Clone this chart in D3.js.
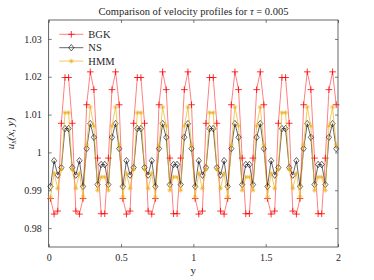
<!DOCTYPE html>
<html lang="en">
<head>
<meta charset="UTF-8">
<title>Velocity profiles</title>
<script src="https://d3js.org/d3.v7.min.js"></script>
<style>
    body { margin: 0; background: white; }
    svg { display: block; }
</style>
</head>
<body>
<svg id="chart" width="374" height="280"></svg>
<script>
    const serif = "'Liberation Serif', 'DejaVu Serif', serif";

    // grid points (cell centres) along y
    const yGrid = [
        0.0125, 0.0375, 0.0625, 0.0875, 0.1125, 0.1375, 0.1625, 0.1875, 0.2125, 0.2375,
        0.2625, 0.2875, 0.3125, 0.3375, 0.3625, 0.3875, 0.4125, 0.4375, 0.4625, 0.4875,
        0.5125, 0.5375, 0.5625, 0.5875, 0.6125, 0.6375, 0.6625, 0.6875, 0.7125, 0.7375,
        0.7625, 0.7875, 0.8125, 0.8375, 0.8625, 0.8875, 0.9125, 0.9375, 0.9625, 0.9875,
        1.0125, 1.0375, 1.0625, 1.0875, 1.1125, 1.1375, 1.1625, 1.1875, 1.2125, 1.2375,
        1.2625, 1.2875, 1.3125, 1.3375, 1.3625, 1.3875, 1.4125, 1.4375, 1.4625, 1.4875,
        1.5125, 1.5375, 1.5625, 1.5875, 1.6125, 1.6375, 1.6625, 1.6875, 1.7125, 1.7375,
        1.7625, 1.7875, 1.8125, 1.8375, 1.8625, 1.8875, 1.9125, 1.9375, 1.9625, 1.9875
    ];

    const bgk = [
        0.9878, 0.9837, 0.9845, 1.0077, 1.0198, 1.0198, 1.0077, 0.9845, 0.9837, 0.9878,
        1.0126, 1.0213, 1.0166, 0.9985, 0.9838, 0.9838, 0.9985, 1.0166, 1.0213, 1.0126,
        0.9878, 0.9837, 0.9845, 1.0077, 1.0198, 1.0198, 1.0077, 0.9845, 0.9837, 0.9878,
        1.0126, 1.0213, 1.0166, 0.9985, 0.9838, 0.9838, 0.9985, 1.0166, 1.0213, 1.0126,
        0.9878, 0.9837, 0.9845, 1.0077, 1.0198, 1.0198, 1.0077, 0.9845, 0.9837, 0.9878,
        1.0126, 1.0213, 1.0166, 0.9985, 0.9838, 0.9838, 0.9985, 1.0166, 1.0213, 1.0126,
        0.9878, 0.9837, 0.9845, 1.0077, 1.0198, 1.0198, 1.0077, 0.9845, 0.9837, 0.9878,
        1.0126, 1.0213, 1.0166, 0.9985, 0.9838, 0.9838, 0.9985, 1.0166, 1.0213, 1.0126
    ];

    const ns = [
        0.9910, 0.9978, 0.9940, 0.9960, 1.0063, 1.0063, 0.9960, 0.9940, 0.9978, 0.9910,
        1.0010, 1.0076, 1.0040, 0.9915, 0.9968, 0.9968, 0.9915, 1.0040, 1.0076, 1.0010,
        0.9910, 0.9978, 0.9940, 0.9960, 1.0063, 1.0063, 0.9960, 0.9940, 0.9978, 0.9910,
        1.0010, 1.0076, 1.0040, 0.9915, 0.9968, 0.9968, 0.9915, 1.0040, 1.0076, 1.0010,
        0.9910, 0.9978, 0.9940, 0.9960, 1.0063, 1.0063, 0.9960, 0.9940, 0.9978, 0.9910,
        1.0010, 1.0076, 1.0040, 0.9915, 0.9968, 0.9968, 0.9915, 1.0040, 1.0076, 1.0010,
        0.9910, 0.9978, 0.9940, 0.9960, 1.0063, 1.0063, 0.9960, 0.9940, 0.9978, 0.9910,
        1.0010, 1.0076, 1.0040, 0.9915, 0.9968, 0.9968, 0.9915, 1.0040, 1.0076, 1.0010
    ];

    const hmm = [
        0.9882, 0.9945, 0.9905, 0.9955, 1.0105, 1.0105, 0.9955, 0.9905, 0.9945, 0.9882,
        1.0020, 1.0120, 1.0070, 0.9900, 0.9935, 0.9935, 0.9900, 1.0070, 1.0120, 1.0020,
        0.9882, 0.9945, 0.9905, 0.9955, 1.0105, 1.0105, 0.9955, 0.9905, 0.9945, 0.9882,
        1.0020, 1.0120, 1.0070, 0.9900, 0.9935, 0.9935, 0.9900, 1.0070, 1.0120, 1.0020,
        0.9882, 0.9945, 0.9905, 0.9955, 1.0105, 1.0105, 0.9955, 0.9905, 0.9945, 0.9882,
        1.0020, 1.0120, 1.0070, 0.9900, 0.9935, 0.9935, 0.9900, 1.0070, 1.0120, 1.0020,
        0.9882, 0.9945, 0.9905, 0.9955, 1.0105, 1.0105, 0.9955, 0.9905, 0.9945, 0.9882,
        1.0020, 1.0120, 1.0070, 0.9900, 0.9935, 0.9935, 0.9900, 1.0070, 1.0120, 1.0020
    ];

    const xTicks = [0, 0.5, 1, 1.5, 2];
    const yTicks = [0.98, 0.99, 1, 1.01, 1.02, 1.03];
    const seriesNames = ["BGK", "NS", "HMM"];

    const margin = { top: 20, right: 36, bottom: 33, left: 48.7 };
    const width = 374 - margin.left - margin.right;
    const height = 280 - margin.top - margin.bottom;

    const svg = d3.select("#chart");
    const g = svg.append("g")
        .attr("transform", "translate(" + margin.left + "," + margin.top + ")");

    const x = d3.scaleLinear().domain([0, 2]).range([0, width]);
    const y = d3.scaleLinear().domain([0.975, 1.035]).range([height, 0]);

    // axes with inward ticks on all four sides
    const tickLen = 3;
    g.append("g")
        .attr("transform", "translate(0," + height + ")")
        .call(d3.axisBottom(x).tickValues(xTicks).tickSizeInner(-tickLen).tickSizeOuter(0).tickPadding(7).tickFormat(d3.format("")));
    g.append("g")
        .call(d3.axisTop(x).tickValues(xTicks).tickSizeInner(-tickLen).tickSizeOuter(0).tickFormat(""));
    g.append("g")
        .call(d3.axisLeft(y).tickValues(yTicks).tickSizeInner(-tickLen).tickSizeOuter(0).tickPadding(7).tickFormat(d3.format("")));
    g.append("g")
        .attr("transform", "translate(" + width + ",0)")
        .call(d3.axisRight(y).tickValues(yTicks).tickSizeInner(-tickLen).tickSizeOuter(0).tickFormat(""));

    g.selectAll(".domain").remove();
    g.selectAll(".tick line").attr("stroke", "#262626").attr("stroke-width", 0.6);
    g.selectAll(".tick text")
        .attr("font-size", 10)
        .attr("font-family", serif)
        .attr("fill", "#262626");

    g.append("rect")
        .attr("width", width)
        .attr("height", height)
        .attr("fill", "none")
        .attr("stroke", "#262626")
        .attr("stroke-width", 0.7);

    const plot = g.append("g");
    const line = d3.line().x((d, i) => x(yGrid[i])).y(d => y(d));

    // marker shapes
    function plusPath(s) { return `M${-s},0H${s}M0,${-s}V${s}`; }
    function diamondPath(s) { return `M0,${-s * 1.25}L${s},0L0,${s * 1.25}L${-s},0Z`; }
    function starPath(s) {
        const d = s * 0.7;
        return `M${-s},0H${s}M0,${-s}V${s}M${-d},${-d}L${d},${d}M${-d},${d}L${d},${-d}`;
    }

    const series = [
        { name: seriesNames[0], values: bgk, color: "#ff0000", lineW: 0.5, marker: plusPath(3.3), mw: 0.8 },
        { name: seriesNames[1], values: ns, color: "#000000", lineW: 0.6, marker: diamondPath(2.6), mw: 0.6 },
        { name: seriesNames[2], values: hmm, color: "#edb120", lineW: 0.7, marker: starPath(2.4), mw: 0.7 }
    ];

    series.forEach(s => {
        plot.append("path")
            .datum(s.values)
            .attr("fill", "none")
            .attr("stroke", s.color)
            .attr("stroke-width", s.lineW)
            .attr("d", line);
        plot.append("g")
            .selectAll("path")
            .data(s.values)
            .join("path")
            .attr("transform", (d, i) => "translate(" + x(yGrid[i]) + "," + y(d) + ")")
            .attr("d", s.marker)
            .attr("fill", "none")
            .attr("stroke", s.color)
            .attr("stroke-width", s.mw);
    });

    // legend (no box)
    const legend = g.append("g").attr("transform", "translate(10.6,14.3)");
    series.forEach((s, i) => {
        const row = legend.append("g").attr("transform", "translate(0," + i * 13.4 + ")");
        row.append("line")
            .attr("x1", 0).attr("x2", 24)
            .attr("stroke", s.color).attr("stroke-width", s.lineW);
        row.append("path")
            .attr("transform", "translate(12,0)")
            .attr("d", s.marker)
            .attr("fill", "none")
            .attr("stroke", s.color)
            .attr("stroke-width", s.mw);
        row.append("text")
            .attr("x", 29)
            .attr("y", 3.5)
            .attr("font-size", 10.5)
            .attr("font-family", serif)
            .attr("fill", "#262626")
            .text(s.name);
    });

    // title
    const title = svg.append("text")
        .attr("x", 193.5)
        .attr("y", 14.5)
        .attr("text-anchor", "middle")
        .attr("font-size", 10.5)
        .attr("font-family", serif)
        .attr("fill", "#262626");
    title.append("tspan").text("Comparison of velocity profiles for ");
    title.append("tspan").attr("font-style", "italic").text("τ");
    title.append("tspan").text(" = 0.005");

    // axis labels
    svg.append("text")
        .attr("x", margin.left + width / 2)
        .attr("y", 273.5)
        .attr("text-anchor", "middle")
        .attr("font-size", 11)
        .attr("font-family", serif)
        .attr("fill", "#262626")
        .text("y");

    const yl = svg.append("text")
        .attr("transform", "translate(13.5," + (margin.top + height / 2) + ") rotate(-90)")
        .attr("text-anchor", "middle")
        .attr("font-size", 11)
        .attr("font-family", serif)
        .attr("font-style", "italic")
        .attr("fill", "#262626");
    yl.append("tspan").text("u");
    yl.append("tspan").attr("font-size", 8).attr("dy", 2).text("x");
    yl.append("tspan").attr("dy", -2).text("(x, y)");
</script>
</body>
</html>
